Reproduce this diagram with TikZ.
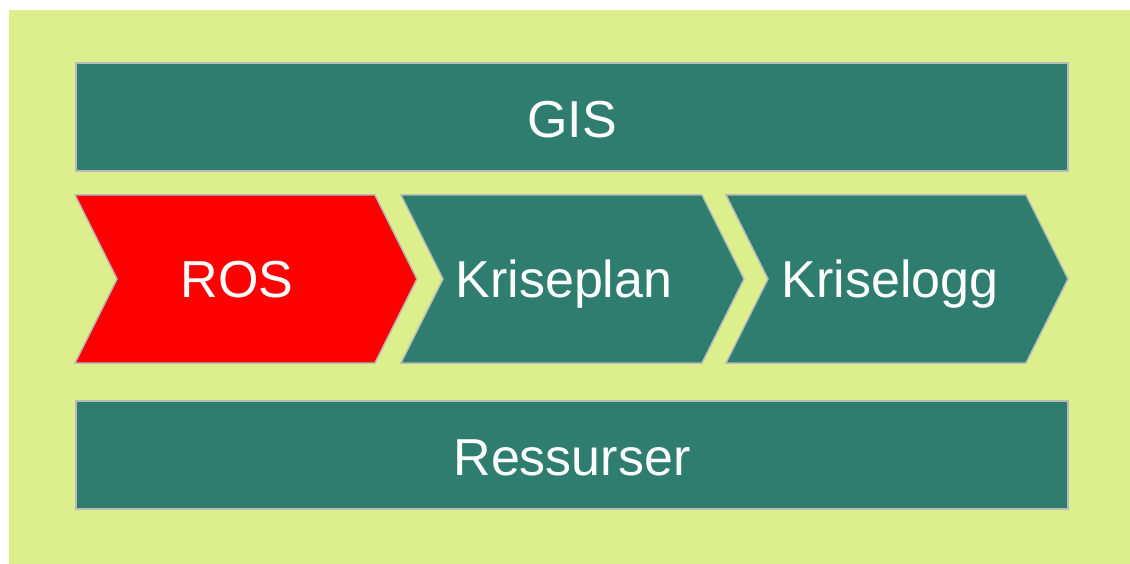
\documentclass[tikz,border=0pt]{standalone}
\usepackage{fontspec}
\setmainfont{Liberation Sans}
\definecolor{bggreen}{HTML}{DDEE8C}
\definecolor{teal}{HTML}{2E7D6F}
\definecolor{rim}{HTML}{B8BCB8}
\begin{document}
\begin{tikzpicture}[x=1pt,y=-1pt,
	box/.style={draw=rim,line width=1.5pt,fill=teal}, % bars and chevrons
	lbl/.style={text=white,font=\fontsize{52}{56}\selectfont,inner sep=0pt,anchor=base} % white labels
	]
	\useasboundingbox (0,0) rectangle (1130,564);
	\fill[bggreen] (9,10) rectangle (1130,564);
	% top and bottom bars
	\draw[box] (76,63) rectangle (1068,171);
	\draw[box] (76,401) rectangle (1068,509);
	% chevrons
	\draw[box,fill=red] (75,195) -- (375,195) -- (417,279) -- (375,363) -- (75,363) -- (117,279) -- cycle;
	\draw[box] (401,195) -- (702,195) -- (744,279) -- (702,363) -- (401,363) -- (443,279) -- cycle;
	\draw[box] (726,195) -- (1026,195) -- (1068,279) -- (1026,363) -- (726,363) -- (768,279) -- cycle;
	\node[lbl] (gis) at (572,138) {GIS};
	\node[lbl] (ros) at (237,298) {ROS};
	\node[lbl] (plan) at (564,298) {Kriseplan};
	\node[lbl] (logg) at (890,298) {Kriselogg};
	\node[lbl] (res) at (572,475) {Ressurser};
\end{tikzpicture}
\end{document}
